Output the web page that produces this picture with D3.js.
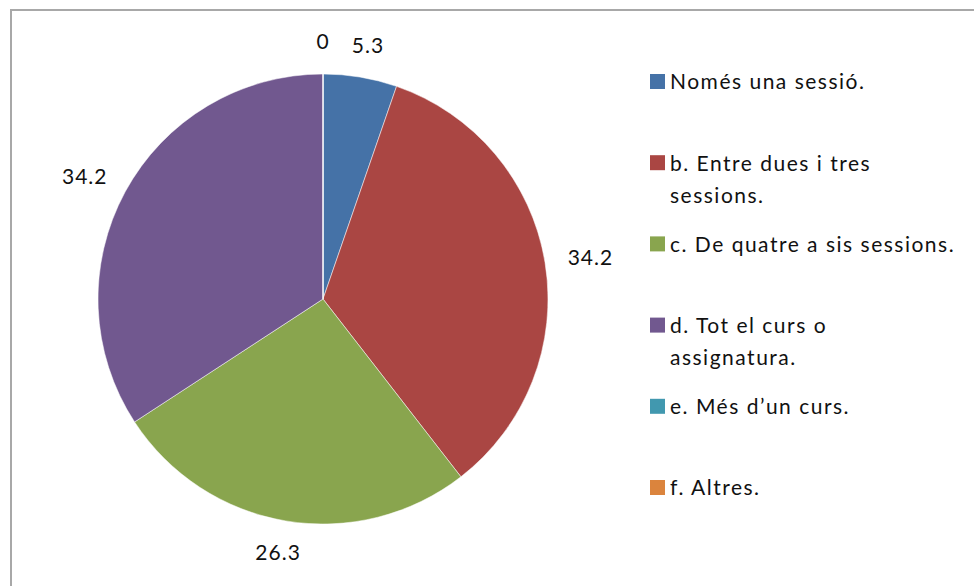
<!DOCTYPE html>
<html>
<head>
<meta charset="utf-8">
<script src="https://cdn.jsdelivr.net/npm/d3@7"></script>
<style>
  html, body { margin: 0; padding: 0; background: #fff; }
  svg { display: block; font-family: Lato, "Open Sans", sans-serif; }
</style>
</head>
<body>
<svg id="chart" width="974" height="586"></svg>
<script>
// Chart data (percentages per answer)
const categories = [
  ["Només una sessió."],
  ["b. Entre dues i tres", "sessions."],
  ["c. De quatre a sis sessions."],
  ["d. Tot el curs o", "assignatura."],
  ["e. Més d\u2019un curs."],
  ["f. Altres."],
];
const values = [5.3, 34.2, 26.3, 34.2, 0, 0];
const colours = ["#4572a7", "#aa4643", "#89a54e", "#71588f", "#4198af", "#db843d"];

const svg = d3.select("#chart");
const width = 974, height = 586;

// outer frame (runs off the right and bottom edges)
svg.append("rect")
  .attr("x", 11).attr("y", 10)
  .attr("width", width).attr("height", height)
  .attr("fill", "none")
  .attr("stroke", "#a8a8a8")
  .attr("stroke-width", 2);

// Pie
const cx = 323, cy = 299, radius = 225;
const items = values.map((v, i) => ({v, i}));
const pie = d3.pie().value(d => d.v).sort(null);
const arcs = pie(items);
const arc = d3.arc().innerRadius(0).outerRadius(radius);

const g = svg.append("g").attr("transform", `translate(${cx},${cy})`);
g.selectAll("path")
  .data(arcs)
  .join("path")
    .attr("d", arc)
    .attr("fill", d => colours[d.data.i])
    .attr("stroke", "#fff")
    .attr("stroke-width", 0.5);

// Data labels outside the slices; zero slices at the same spot share one label
const labelR = radius + 22;
const seen = new Set();
const labels = arcs.filter(d => {
  const key = Math.round(d.startAngle * 100) + ":" + Math.round(d.endAngle * 100);
  if (seen.has(key)) return false;
  seen.add(key);
  return true;
});
g.selectAll("text.lbl")
  .data(labels)
  .join("text")
    .attr("class", "lbl")
    .attr("x", d => {
      const a = (d.startAngle + d.endAngle) / 2;
      return Math.sin(a) * labelR + Math.sin(a) * 24;
    })
    .attr("y", d => {
      const a = (d.startAngle + d.endAngle) / 2;
      return -Math.cos(a) * labelR - Math.cos(a) * 10;
    })
    .attr("dy", "0.35em")
    .attr("text-anchor", "middle")
    .attr("font-size", 21)
    .attr("letter-spacing", 1)
    .attr("fill", "#111")
    .text(d => d.data.v === 0 ? "0" : d3.format(".1f")(d.data.v));

// Legend
const legendY = d3.scalePoint()
  .domain(d3.range(categories.length))
  .range([82, 488]);
const lineH = 32;
const legend = svg.append("g");
const entry = legend.selectAll("g")
  .data(categories)
  .join("g")
    .attr("transform", (d, i) => `translate(650,${legendY(i)})`);
entry.append("rect")
  .attr("x", 0).attr("y", -8)
  .attr("width", 15).attr("height", 15)
  .attr("fill", (d, i) => colours[i]);
entry.append("text")
  .attr("x", 20)
  .attr("font-size", 21)
  .attr("letter-spacing", 1.5)
  .attr("fill", "#111")
  .selectAll("tspan")
  .data(d => d)
  .join("tspan")
    .attr("x", 20)
    .attr("y", (d, j) => j * lineH)
    .attr("dy", "0.35em")
    .text(d => d);
</script>
</body>
</html>
